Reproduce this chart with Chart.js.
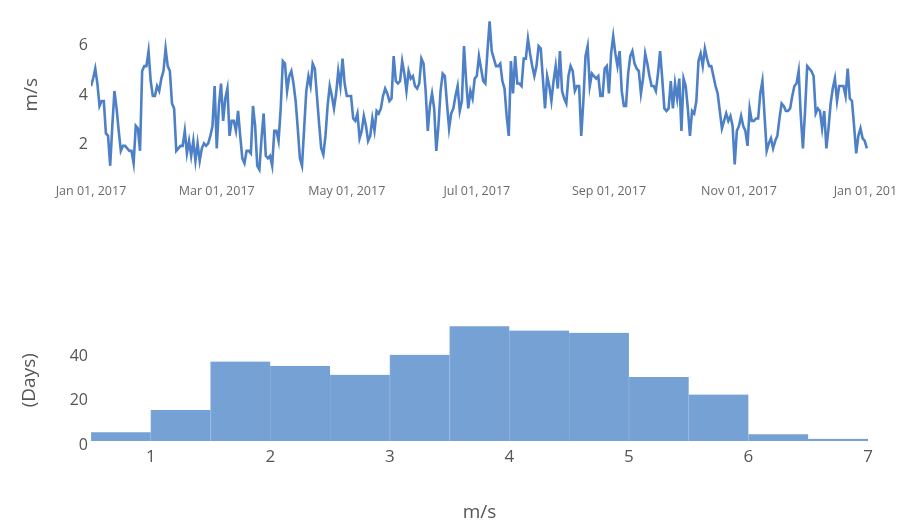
<!DOCTYPE html>
<html>
<head>
<meta charset="utf-8">
<script src="https://cdn.jsdelivr.net/npm/chart.js@4"></script>
<style>
  html, body { margin: 0; padding: 0; background: #fff; overflow: hidden; width: 897px; height: 524px; }
  #wind { position: absolute; left: 0; top: 0; }
  #hist { position: absolute; left: 0; top: 300px; }
</style>
</head>
<body>
<canvas id="wind" width="940" height="210"></canvas>
<canvas id="hist" width="940" height="224"></canvas>
<script>
// Daily mean wind speed for 2017 (m/s), one value per day from Jan 01
const dailySpeed = [
  // Jan - Feb
  4.2, 4.5, 4.9, 4.3, 3.4, 3.6, 3.6, 2.3, 2.2, 1.0,
  2.6, 4.0, 3.3, 2.4, 1.6, 1.8, 1.8, 1.7, 1.6, 1.6,
  1.1, 2.6, 2.5, 1.6, 4.8, 5.0, 5.0, 5.6, 4.4, 3.8,
  3.8, 4.2, 4.0, 4.5, 4.8, 5.7, 5.0, 4.8, 3.5, 3.3,
  1.6, 1.7, 1.8, 1.8, 2.4, 1.5, 2.0, 1.4, 2.0, 1.2,
  1.9, 1.2, 1.7, 1.9, 1.8, 1.9, 2.2, 2.6, 4.2, 1.7,
  // Mar - Apr
  3.4, 4.3, 2.8, 3.7, 4.1, 2.2, 2.8, 2.8, 2.4, 3.2,
  2.2, 1.3, 1.1, 1.6, 1.6, 1.5, 3.4, 2.6, 1.0, 0.85,
  2.1, 3.1, 1.4, 1.3, 1.4, 1.0, 2.4, 2.4, 2.0, 3.3,
  5.2, 5.1, 4.0, 4.6, 4.8, 4.3, 3.6, 2.5, 1.3, 1.0,
  2.5, 4.0, 4.6, 4.2, 5.1, 4.9, 3.8, 2.7, 1.7, 1.45,
  2.2, 3.4, 4.2, 3.8, 3.3, 3.9, 4.8, 4.2, 5.3, 4.3,
  3.8, 3.8,
  // May - Jun
  3.8, 2.9, 2.8, 3.1, 2.1, 2.4, 3.0, 2.6, 2.0, 2.2,
  2.9, 2.4, 3.2, 3.1, 3.3, 3.8, 4.1, 3.9, 3.6, 3.7,
  5.4, 4.4, 4.3, 4.4, 5.2, 4.7, 4.0, 4.8, 4.5, 4.6,
  4.2, 4.1, 4.3, 5.3, 5.1, 4.0, 2.4, 3.4, 3.9, 3.3,
  1.6, 2.6, 4.0, 4.7, 4.6, 3.5, 2.5, 3.1, 3.3, 3.8,
  4.2, 3.2, 3.6, 5.8, 4.4, 3.3, 4.0, 3.7, 4.5, 4.6,
  // Jul - Aug
  5.4, 4.9, 4.4, 4.3, 5.6, 6.8, 5.6, 5.3, 5.0, 5.0,
  5.1, 4.4, 4.1, 3.0, 2.2, 5.2, 3.9, 5.4, 4.3, 4.3,
  4.2, 5.3, 5.3, 6.1, 5.5, 5.0, 4.6, 5.0, 5.8, 5.7,
  4.5, 3.3, 4.6, 4.2, 3.6, 4.4, 5.0, 4.1, 5.6, 4.0,
  3.7, 3.5, 4.6, 5.0, 4.8, 4.0, 4.2, 4.2, 2.2, 3.6,
  5.4, 5.8, 4.2, 4.7, 4.6, 4.5, 4.6, 3.8, 3.8, 4.9,
  5.0,
  // Sep - Oct
  3.9, 5.5, 6.2, 5.5, 5.0, 5.6, 4.0, 3.4, 3.4, 4.7,
  5.4, 5.6, 5.1, 4.9, 4.8, 3.9, 4.5, 5.5, 5.1, 4.6,
  4.2, 4.2, 4.0, 4.7, 5.6, 4.5, 3.3, 3.2, 3.3, 4.4,
  3.3, 4.3, 3.7, 4.5, 2.4, 4.5, 4.2, 3.3, 2.2, 3.2,
  3.1, 3.6, 5.2, 5.5, 5.0, 5.7, 5.3, 5.0, 5.0, 4.6,
  4.2, 3.9, 3.2, 2.5, 2.8, 3.1, 2.8, 3.0, 2.6, 1.05,
  2.4,
  // Nov - Dec
  2.6, 3.0, 2.6, 2.4, 1.8, 3.3, 2.8, 2.8, 2.9, 2.9,
  3.9, 4.4, 3.0, 1.6, 1.9, 2.1, 1.7, 2.0, 2.2, 2.9,
  3.5, 3.4, 3.2, 3.2, 3.3, 3.8, 4.2, 4.3, 4.8, 3.0,
  1.7, 3.2, 5.0, 4.9, 4.8, 4.6, 3.1, 3.3, 3.2, 2.5,
  3.2, 1.7, 2.5, 3.5, 4.1, 4.5, 3.6, 4.2, 4.2, 4.2,
  3.8, 4.9, 3.7, 3.6, 2.6, 1.5, 2.2, 2.5, 2.1, 2.0,
  1.7
];

// Date axis: day-of-year positions and their labels
const dateTickDays = [0, 59, 120, 181, 243, 304, 365];
const dateTickLabels = ['Jan 01, 2017', 'Mar 01, 2017', 'May 01, 2017', 'Jul 01, 2017',
                        'Sep 01, 2017', 'Nov 01, 2017', 'Jan 01, 2018'];
const speedTicks = [2, 4, 6];

// Histogram of daily speeds: bin edges (m/s) and number of days per bin
const binEdges = [0.5, 1, 1.5, 2, 2.5, 3, 3.5, 4, 4.5, 5, 5.5, 6, 6.5, 7];
const dayCounts = [4, 14, 36, 34, 30, 39, 52, 50, 49, 29, 21, 3, 1];
const countTicks = [0, 20, 40];
const binTicks = [1, 2, 3, 4, 5, 6, 7];

const FONT = "'Open Sans', 'Noto Sans', sans-serif";
const LINE_BLUE = '#4d80c6';
const BAR_BLUE = '#75a1d5';
const TEXT = '#555';

// pin an axis to a fixed thickness so both panels share the same plot area
function fixedBox(size) {
  return function (scale) {
    if (scale.isHorizontal()) scale.height = size; else scale.width = size;
    scale.paddingLeft = 0; scale.paddingRight = 0;
    scale.paddingTop = 0; scale.paddingBottom = 0;
  };
}
function fixedTicks(values) {
  return function (scale) { scale.ticks = values.map(v => ({ value: v })); };
}
const noGrid = { display: false, drawTicks: false };
const noBorder = { display: false };

new Chart(document.getElementById('wind'), {
  type: 'line',
  data: {
    datasets: [{
      data: dailySpeed.map((v, i) => ({ x: i, y: v })),
      borderColor: LINE_BLUE,
      borderWidth: 2.6,
      pointRadius: 0,
      tension: 0,
      fill: false
    }]
  },
  options: {
    responsive: false,
    animation: false,
    devicePixelRatio: 1,
    layout: { padding: { left: 0, top: 12.5, right: 71, bottom: 0 } },
    plugins: { legend: { display: false }, tooltip: { enabled: false } },
    scales: {
      x: {
        type: 'linear', min: 0, max: 365,
        grid: noGrid, border: noBorder,
        afterBuildTicks: fixedTicks(dateTickDays),
        afterFit: fixedBox(33),
        ticks: {
          autoSkip: false, maxRotation: 0, padding: 7,
          color: '#6a6a6a', font: { family: FONT, size: 12.5 },
          callback: (v, i) => dateTickLabels[i]
        }
      },
      y: {
        min: 0.55, max: 7.15,
        grid: noGrid, border: noBorder,
        afterBuildTicks: fixedTicks(speedTicks),
        afterFit: fixedBox(91),
        ticks: { padding: 3, labelOffset: 4, color: TEXT, font: { family: FONT, size: 16 } },
        title: {
          display: true, text: 'm/s', color: TEXT,
          font: { family: FONT, size: 19 }, padding: { top: 20.6, bottom: 0 }
        }
      }
    }
  }
});

new Chart(document.getElementById('hist'), {
  type: 'bar',
  data: {
    datasets: [{
      data: dayCounts.map((c, i) => ({ x: (binEdges[i] + binEdges[i + 1]) / 2, y: c })),
      backgroundColor: BAR_BLUE,
      borderColor: '#86acda',
      borderWidth: { left: 1, right: 0, top: 0, bottom: 0 },
      borderSkipped: false,
      barPercentage: 1,
      categoryPercentage: 1,
      grouped: false
    }]
  },
  options: {
    responsive: false,
    animation: false,
    devicePixelRatio: 1,
    layout: { padding: { left: 0, top: 19.5, right: 72, bottom: 0 } },
    plugins: { legend: { display: false }, tooltip: { enabled: false } },
    scales: {
      x: {
        type: 'linear', min: 0.5, max: 7, offset: false,
        grid: noGrid, border: noBorder,
        afterBuildTicks: fixedTicks(binTicks),
        afterFit: fixedBox(83),
        ticks: { autoSkip: false, maxRotation: 0, padding: 6, color: TEXT, font: { family: FONT, size: 17 } },
        title: {
          display: true, text: 'm/s', color: TEXT,
          font: { family: FONT, size: 19 }, padding: { top: 0, bottom: 0 }
        }
      },
      y: {
        min: 0, max: 55,
        grid: noGrid, border: noBorder,
        afterBuildTicks: fixedTicks(countTicks),
        afterFit: fixedBox(91),
        ticks: { padding: 3, labelOffset: 4, color: TEXT, font: { family: FONT, size: 16 } },
        title: {
          display: true, text: '(Days)', color: TEXT,
          font: { family: FONT, size: 19 }, padding: { top: 18.6, bottom: 0 }
        }
      }
    }
  }
});
</script>
</body>
</html>
